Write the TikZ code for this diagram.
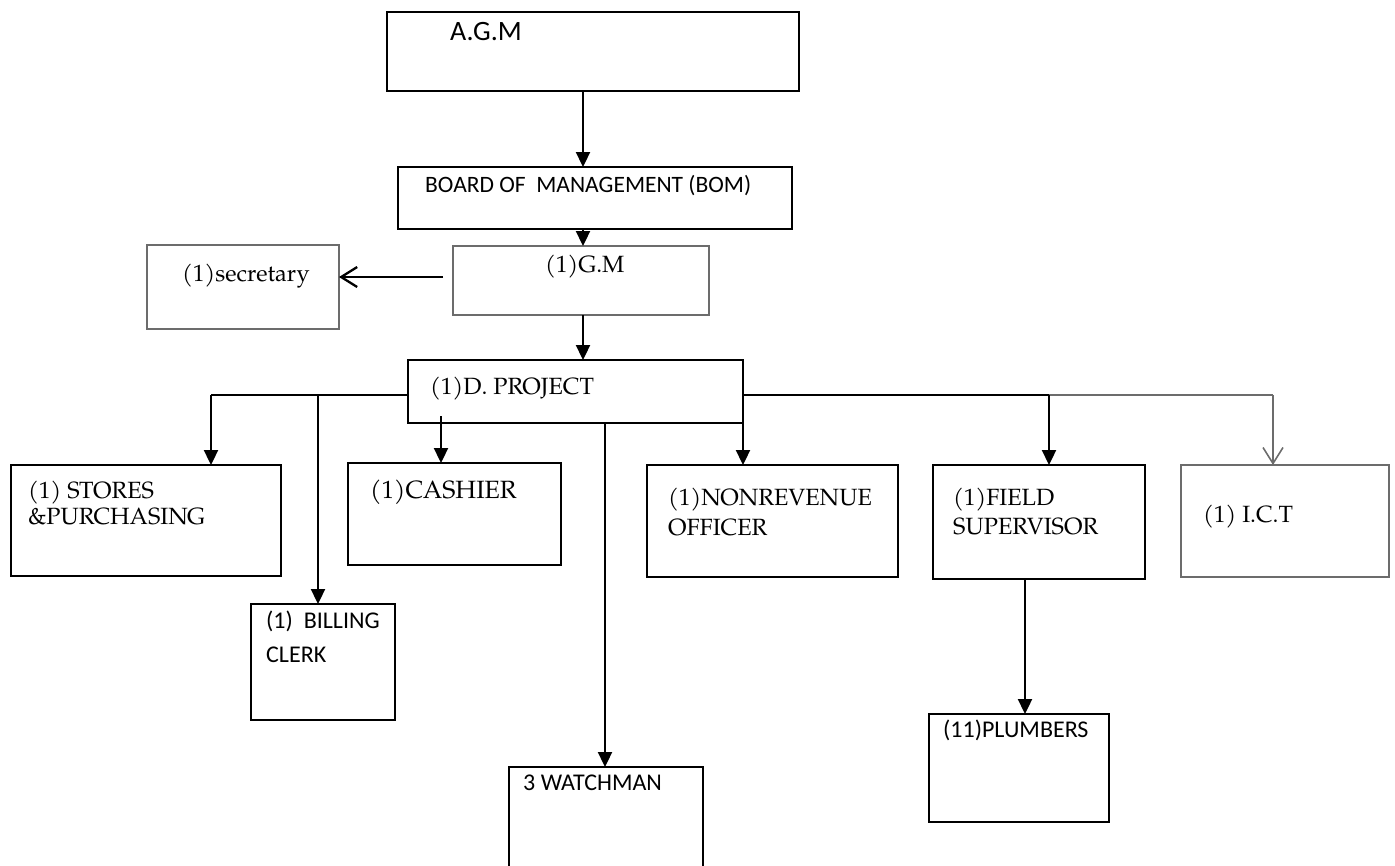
\documentclass[tikz,border=0pt]{standalone}
\usepackage{fontspec}
\setmainfont{TeX Gyre Pagella}
\newfontfamily\calfont{Carlito}
\usetikzlibrary{arrows.meta}
\begin{document}
\begin{tikzpicture}[x=1pt,y=-1pt,
  box/.style={draw=black, line width=2.3pt, anchor=north west, inner sep=0pt, outer sep=0pt},
  gbox/.style={draw=gray!85!black, line width=1.4pt, anchor=north west, inner sep=0pt, outer sep=0pt},
  lbl/.style={anchor=base west, inner sep=0pt},
  sf/.style={font=\calfont\fontsize{23.5}{28}\selectfont},
  sfs/.style={font=\calfont\fontsize{24}{28}\selectfont},
  rm/.style={font=\fontsize{23.5}{28}\selectfont},
  ln/.style={draw=black, line width=2.3pt},
  gln/.style={draw=gray!85!black, line width=1.6pt},
  arr/.style={ln, -{Triangle[length=15pt,width=14pt]}},
  oarr/.style={ln, -{Straight Barb[length=16pt,width=20pt]}},
  goarr/.style={gln, -{Straight Barb[length=16pt,width=20pt]}}]
\useasboundingbox (0,0) rectangle (1395,865);
% boxes
\node[box, minimum width=412pt, minimum height=79pt] (agm) at (387,12) {};
\node[box, minimum width=394pt, minimum height=62pt] (bom) at (398,167) {};
\node[gbox, minimum width=192pt, minimum height=84pt] (sec) at (147,245) {};
\node[gbox, minimum width=256pt, minimum height=69pt] (gm) at (453,246) {};
\node[box, minimum width=335pt, minimum height=63pt] (dp) at (408,360) {};
\node[box, minimum width=270pt, minimum height=111pt] (stores) at (11,465) {};
\node[box, minimum width=213pt, minimum height=102pt] (cash) at (348,463) {};
\node[box, minimum width=144pt, minimum height=116pt] (bill) at (251,604) {};
\node[box, minimum width=251pt, minimum height=112pt] (nr) at (647,465) {};
\node[box, minimum width=212pt, minimum height=114pt] (fs) at (933,465) {};
\node[gbox, minimum width=208pt, minimum height=112pt] (ict) at (1181,465) {};
\node[box, minimum width=180pt, minimum height=108pt] (plumb) at (929,714) {};
\node[anchor=north west, inner sep=0pt, outer sep=0pt, minimum width=194pt, minimum height=100pt] (wm) at (509,767) {};
\draw[ln] (wm.south west) -- (wm.north west) -- (wm.north east) -- (wm.south east);
% texts
\node[lbl, font=\calfont\fontsize{28}{32}\selectfont] (tagm) at (450,40) {A.G.M};
\node[lbl, sf] (tbom) at (425,192) {BOARD OF\ \ MANAGEMENT (BOM)};
\node[lbl, rm] (tsec) at (182,281) {(1)secretary};
\node[lbl, rm] (tgm) at (545,272) {(1)G.M};
\node[lbl, rm] (tdp) at (430,394) {(1)D. PROJECT};
\node[lbl, rm] (tst1) at (28,498) {(1) STORES};
\node[lbl, rm] (tst2) at (28,524) {\&PURCHASING};
\node[lbl, font=\fontsize{25}{30}\selectfont] (tcash) at (370,498) {(1)CASHIER};
\node[lbl, sfs] (tbl1) at (266,628) {(1)\ \ BILLING};
\node[lbl, sfs] (tbl2) at (266,662) {CLERK};
\node[lbl, rm] (tnr1) at (668,505) {(1)NONREVENUE};
\node[lbl, rm] (tnr2) at (668,535) {OFFICER};
\node[lbl, rm] (tfs1) at (953,505) {(1)FIELD};
\node[lbl, rm] (tfs2) at (953,534) {SUPERVISOR};
\node[lbl, rm] (tict) at (1203,522) {(1) I.C.T};
\node[lbl, sfs] (tpl) at (943,737) {(11)PLUMBERS};
\node[lbl, sfs] (twm) at (523,790) {3 WATCHMAN};
% junction coordinates
\coordinate (jl) at (211,395);
\coordinate (jb) at (318,395);
\coordinate (jc) at (441,416);
\coordinate (jw) at (605,423);
\coordinate (jr1) at (1049,395);
\coordinate (jr2) at (1273,395);
\coordinate (ga) at (443,277);
\coordinate (jp) at (1025,579);
\coordinate (jm) at (583,0);
% connectors
\draw[arr] (agm.south -| jm) -- (bom.north -| jm);
\draw[arr] (bom.south -| jm) -- (gm.north -| jm);
\draw[arr] (gm.south -| jm) -- (dp.north -| jm);
\draw[oarr] (ga) -- (ga -| sec.east);
\draw[ln] (jl -| dp.west) -- (jl);
\draw[arr] (jl) -- (jl |- stores.north);
\draw[arr] (jb) -- (jb |- bill.north);
\draw[arr] (jc) -- (jc |- cash.north);
\draw[arr] (jw) -- (jw |- wm.north);
\draw[arr] (dp.south east) -- (dp.south east |- nr.north);
\draw[ln] (jr1 -| dp.east) -- (jr1);
\draw[gln] (jr1) -- (jr2);
\draw[arr] (jr1) -- (jr1 |- fs.north);
\draw[goarr] (jr2) -- (jr2 |- ict.north);
\draw[arr] (jp) -- (jp |- plumb.north);
\end{tikzpicture}
\end{document}
